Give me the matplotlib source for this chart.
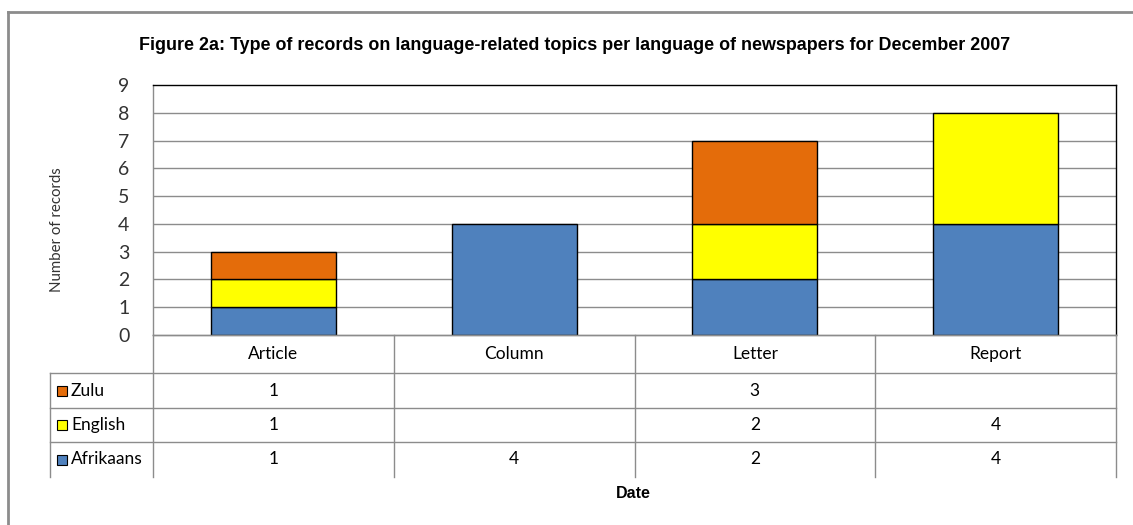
import matplotlib
matplotlib.use("Agg")
import matplotlib.pyplot as plt
from matplotlib.lines import Line2D
from matplotlib.patches import Rectangle

categories = ["Article", "Column", "Letter", "Report"]
series_names = ["Zulu", "English", "Afrikaans"]
afrikaans = [1, 4, 2, 4]
english = [1, 0, 2, 4]
zulu = [1, 0, 3, 0]
colors = {"Afrikaans": "#4F81BD", "English": "#FFFF00", "Zulu": "#E46C0A"}
yticks = list(range(0, 10))

W, H = 1133, 525
fig = plt.figure(figsize=(W / 100, H / 100), dpi=100)
fig.patch.set_facecolor("white")

def fx(px):
    return px / W

def fy(py):
    return 1 - py / H

left_px, right_px, top_px, bottom_px = 153, 1116, 85, 335
ax = fig.add_axes([fx(left_px), fy(bottom_px), fx(right_px - left_px), fy(top_px) - fy(bottom_px)])

x = list(range(len(categories)))
bw = 0.52
ax.bar(x, afrikaans, bw, color=colors["Afrikaans"], edgecolor="black", linewidth=1, zorder=3)
ax.bar(x, english, bw, bottom=afrikaans, color=colors["English"], edgecolor="black", linewidth=1, zorder=3)
bot2 = [a + e for a, e in zip(afrikaans, english)]
ax.bar(x, zulu, bw, bottom=bot2, color=colors["Zulu"], edgecolor="black", linewidth=1, zorder=3)
for c in ax.containers:
    for r in c:
        if r.get_height() == 0:
            r.set_visible(False)

ax.set_xlim(-0.5, len(categories) - 0.5)
ax.set_ylim(0, 9)
ax.set_yticks(yticks)
ax.set_yticklabels([str(v) for v in yticks], fontsize=14, color="#333333", family="Lato")
ax.tick_params(axis="y", length=0, pad=17)
ax.set_xticks([])
for v in yticks[1:-1]:
    ax.axhline(v, color="#8c8c8c", lw=1, zorder=1)
ax.spines["top"].set_color("black")
ax.spines["right"].set_color("black")
ax.spines["left"].set_color("#8c8c8c")
ax.spines["bottom"].set_color("#8c8c8c")
for s in ax.spines.values():
    s.set_linewidth(1)

fig.text(fx(57), fy(230), "Number of records", rotation=90, ha="center", va="center",
         fontsize=10.8, color="#333333", family="Lato")

fig.text(fx(575), fy(45), "Figure 2a: Type of records on language-related topics per language of newspapers for December 2007",
         ha="center", va="center", fontsize=12.9, fontweight="bold", family="Liberation Sans")

gray = "#8c8c8c"
fig.add_artist(Line2D([fx(8), 1], [fy(12), fy(12)], color=gray, lw=2))
fig.add_artist(Line2D([fx(8), fx(8)], [fy(12), 0], color=gray, lw=2))

col_edges = [153 + i * (right_px - left_px) / len(categories) for i in range(len(categories) + 1)]
row_edges = [335, 373, 408, 442, 477]
tl = "#8c8c8c"
fig.add_artist(Line2D([fx(153), fx(right_px)], [fy(335), fy(335)], color=tl, lw=1))
for ry in row_edges[1:4]:
    fig.add_artist(Line2D([fx(50), fx(right_px)], [fy(ry), fy(ry)], color=tl, lw=1))
for cx in col_edges:
    fig.add_artist(Line2D([fx(cx), fx(cx)], [fy(335), fy(477)], color=tl, lw=1))
fig.add_artist(Line2D([fx(50), fx(50)], [fy(373), fy(477)], color=tl, lw=1))

for i, cat in enumerate(categories):
    cx = (col_edges[i] + col_edges[i + 1]) / 2
    fig.text(fx(cx), fy(354), cat, ha="center", va="center", fontsize=12.5, family="Lato")

table_rows = {"Zulu": zulu, "English": english, "Afrikaans": afrikaans}
for r, name in enumerate(series_names):
    cy = (row_edges[r + 1] + row_edges[r + 2]) / 2
    fig.add_artist(Rectangle((fx(57), fy(cy + 5)), fx(10), fy(cy - 5) - fy(cy + 5),
                             facecolor=colors[name], edgecolor="black", lw=0.8))
    fig.text(fx(71), fy(cy), name, ha="left", va="center", fontsize=12.5, family="Lato")
    for i, v in enumerate(table_rows[name]):
        if v:
            cx = (col_edges[i] + col_edges[i + 1]) / 2
            fig.text(fx(cx), fy(cy), str(v), ha="center", va="center", fontsize=12.5, family="Lato")

fig.text(fx(633), fy(493), "Date", ha="center", va="center", fontsize=11.5, fontweight="bold",
         family="Liberation Sans")

fig.savefig("out.png", dpi=100)
